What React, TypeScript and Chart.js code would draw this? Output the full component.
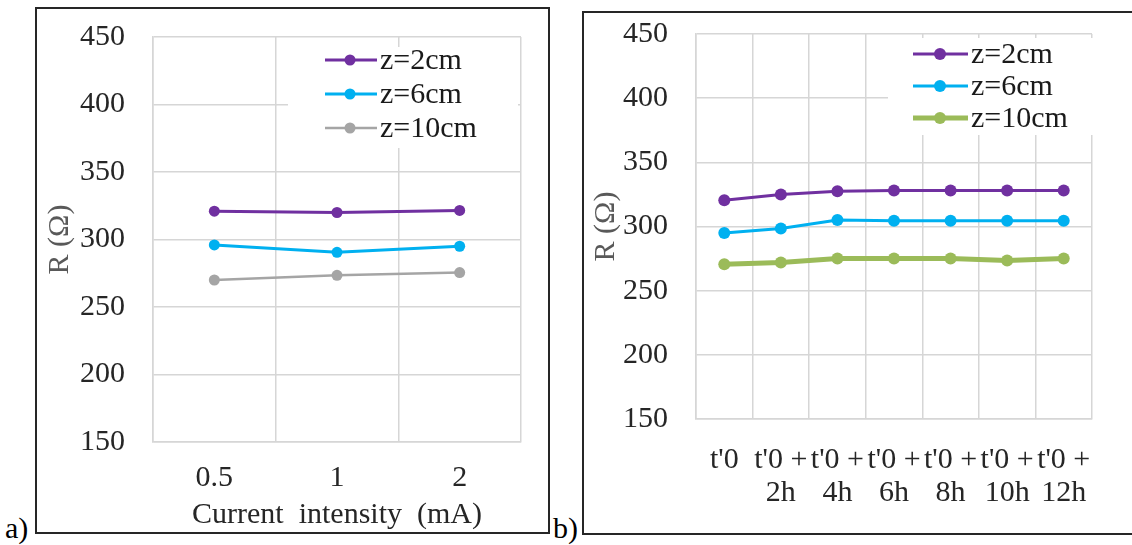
import React, { useEffect, useRef } from "react";
import { Chart, registerables } from "chart.js";

Chart.register(...registerables);

// ---------- data ----------
const seriesNames = ["z=2cm", "z=6cm", "z=10cm"];

const currentLabels = ["0.5", "1", "2"];
const currentZ2 = [321, 320, 321.5];
const currentZ6 = [296, 290.5, 295];
const currentZ10 = [270, 273.5, 275.5];

const timeLabels = [
  ["t'0"],
  ["t'0 +", "2h"],
  ["t'0 +", "4h"],
  ["t'0 +", "6h"],
  ["t'0 +", "8h"],
  ["t'0 +", "10h"],
  ["t'0 +", "12h"],
];
const timeZ2 = [320.5, 325, 327.5, 328, 328, 328, 328];
const timeZ6 = [295, 298.5, 305, 304.5, 304.5, 304.5, 304.5];
const timeZ10 = [270.5, 272, 275, 275, 275, 273.5, 275];

const yMin = 150;
const yMax = 450;
const yStep = 50;

const yTitle = "R (\u03A9)";
const xTitleA = "Current  intensity  (mA)";

// ---------- styling ----------
const FONT = "'Liberation Serif', 'Times New Roman', serif";
const GRID = "#d6d6d6";
const TEXT = "#262626";
const PURPLE = "#7030A0";
const CYAN = "#00B0F0";
const GREY = "#A5A5A5";
const GREEN = "#9BBB59";

Chart.defaults.font.family = FONT;
Chart.defaults.font.lineHeight = 1.1;

const boxLegend = {
  id: "boxLegend",
  beforeDatasetsDraw(chart: any, _args: any, opts: any) {
    const ctx = chart.ctx;
    const { box, rows, lineX0, lineX1, markerX, textX, size } = opts;
    ctx.save();
    ctx.fillStyle = "#ffffff";
    ctx.fillRect(box.x, box.y, box.w, box.h);
    chart.data.datasets.forEach((ds: any, i: number) => {
      const y = rows[i];
      ctx.strokeStyle = ds.borderColor;
      ctx.lineWidth = ds.borderWidth;
      ctx.beginPath();
      ctx.moveTo(lineX0, y);
      ctx.lineTo(lineX1, y);
      ctx.stroke();
      ctx.fillStyle = ds.borderColor;
      ctx.beginPath();
      ctx.arc(markerX, y, ds.pointRadius, 0, Math.PI * 2);
      ctx.fill();
      ctx.fillStyle = "#1a1a1a";
      ctx.font = `${size}px ${FONT}`;
      ctx.textAlign = "left";
      ctx.textBaseline = "middle";
      ctx.fillText(ds.label, textX, y + 1);
    });
    ctx.restore();
  },
};

function ds(label: string, data: number[], color: string, width: number, radius: number) {
  return {
    label,
    data,
    borderColor: color,
    backgroundColor: color,
    pointBackgroundColor: color,
    pointBorderColor: color,
    pointBorderWidth: 0,
    borderWidth: width,
    pointRadius: radius,
    tension: 0,
    fill: false,
  };
}

function makeConfig(p: any) {
  return {
    type: "line",
    data: { labels: p.labels, datasets: p.datasets },
    plugins: [boxLegend],
    options: {
      responsive: false,
      animation: false,
      devicePixelRatio: 1,
      events: [],
      layout: { padding: p.padding, autoPadding: false },
      plugins: {
        legend: { display: false },
        tooltip: { enabled: false },
        boxLegend: p.legend,
      },
      scales: {
        x: {
          type: "category",
          offset: true,
          grid: { offset: true, color: GRID, lineWidth: 1.5, drawTicks: false },
          border: { display: true, color: GRID, width: 1.5 },
          ticks: {
            padding: p.xTickPad,
            color: TEXT,
            font: { size: 30 },
            maxRotation: 0,
            minRotation: 0,
            autoSkip: false,
          },
          title: p.xTitle
            ? {
                display: true,
                text: p.xTitle,
                color: TEXT,
                font: { size: 30 },
                padding: { top: 0, bottom: 0.5 },
              }
            : { display: false },
          afterFit: (s: any) => {
            s.height = p.xHeight;
            s.paddingLeft = 0;
            s.paddingRight = 0;
          },
        },
        y: {
          min: yMin,
          max: yMax,
          grid: { color: GRID, lineWidth: 1.5, drawTicks: false },
          border: { display: true, color: GRID, width: 1.5 },
          ticks: { stepSize: yStep, padding: 28, color: TEXT, font: { size: 30 } },
          title: {
            display: true,
            text: yTitle,
            color: "#595959",
            font: { size: 30 },
            padding: { top: p.yTitlePad, bottom: 0 },
          },
          afterFit: (s: any) => {
            s.width = p.yWidth;
            s.paddingTop = 0;
            s.paddingBottom = 0;
          },
        },
      },
    },
  };
}

function LineChart(props: any) {
  const ref = useRef<HTMLCanvasElement | null>(null);
  useEffect(() => {
    const chart = new Chart(ref.current as any, makeConfig(props) as any);
    return () => chart.destroy();
  }, []);
  return (
    <canvas
      ref={ref}
      width={props.w}
      height={props.h}
      style={{ position: "absolute", left: props.x, top: props.y, width: props.w, height: props.h }}
    />
  );
}

export default function App() {
  const datasetsA = [
    ds(seriesNames[0], currentZ2, PURPLE, 3, 5.5),
    ds(seriesNames[1], currentZ6, CYAN, 3, 5.5),
    ds(seriesNames[2], currentZ10, GREY, 2.5, 5.5),
  ];
  const datasetsB = [
    ds(seriesNames[0], timeZ2, PURPLE, 3, 6),
    ds(seriesNames[1], timeZ6, CYAN, 3, 6),
    ds(seriesNames[2], timeZ10, GREEN, 5, 6),
  ];
  const labelStyle: any = {
    position: "absolute",
    fontFamily: FONT,
    fontSize: 30,
    lineHeight: "30px",
    color: "#000",
    whiteSpace: "nowrap",
  };
  return (
    <div
      style={{
        position: "absolute",
        left: 0,
        top: 0,
        width: 1132,
        height: 545,
        overflow: "hidden",
        background: "#fff",
      }}
    >
      <div
        style={{
          position: "absolute",
          left: 35,
          top: 7,
          width: 515,
          height: 527,
          border: "2px solid #262626",
          boxSizing: "border-box",
        }}
      />
      <div
        style={{
          position: "absolute",
          left: 582,
          top: 11,
          width: 560,
          height: 524,
          border: "2px solid #262626",
          boxSizing: "border-box",
        }}
      />
      <LineChart
        x={37}
        y={9}
        w={511}
        h={523}
        labels={currentLabels}
        datasets={datasetsA}
        padding={{ left: 0, top: 28, right: 27, bottom: 0 }}
        xTickPad={19.5}
        xHeight={90}
        xTitle={xTitleA}
        yWidth={116}
        yTitlePad={6.5}
        legend={{
          box: { x: 251, y: 38, w: 230, h: 101 },
          rows: [51, 85, 119],
          lineX0: 288,
          lineX1: 340,
          markerX: 313,
          textX: 343,
          size: 30,
        }}
      />
      <LineChart
        x={584}
        y={13}
        w={548}
        h={520}
        labels={timeLabels}
        datasets={datasetsB}
        padding={{ left: 0, top: 21, right: 40, bottom: 0 }}
        xTickPad={24.5}
        xHeight={114}
        xTitle={null}
        yWidth={112}
        yTitlePad={5.5}
        legend={{
          box: { x: 304, y: 25, w: 206, h: 97 },
          rows: [41, 73, 105],
          lineX0: 329,
          lineX1: 384,
          markerX: 356,
          textX: 387,
          size: 30,
        }}
      />
      <div style={{ ...labelStyle, left: 5, top: 513 }}>a)</div>
      <div style={{ ...labelStyle, left: 553, top: 513 }}>b)</div>
    </div>
  );
}
